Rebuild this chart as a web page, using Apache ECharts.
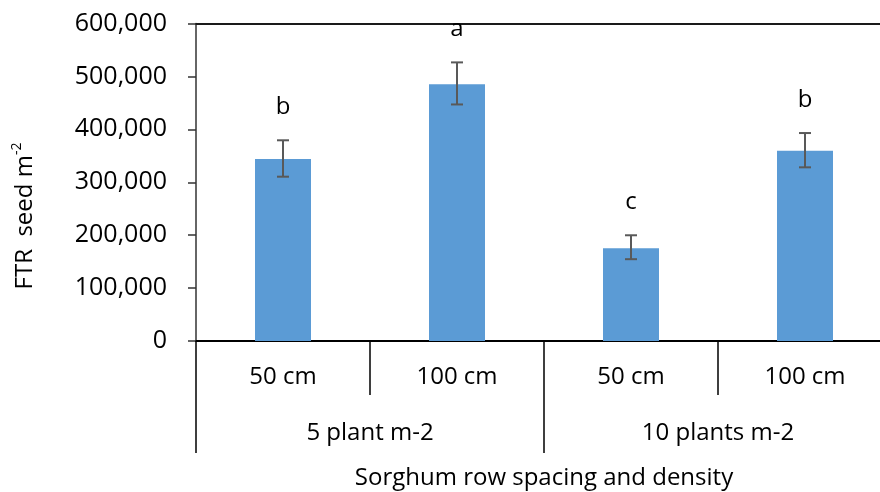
<!DOCTYPE html>
<html>
<head>
<meta charset="utf-8">
<script src="https://cdn.jsdelivr.net/npm/echarts@6/dist/echarts.min.js"></script>
<style>html,body{margin:0;padding:0;background:#fff;}#c{width:880px;height:492px;}</style>
</head>
<body>
<div id="c"></div>
<script>
const spacing = ['50 cm', '100 cm', '50 cm', '100 cm'];
const density = ['5 plant m-2', '10 plants m-2'];
const seeds = [344000, 485000, 175500, 359500];
const errLow = [310500, 447000, 154600, 328200];
const errHigh = [379300, 526500, 199800, 393000];
const letters = ['b', 'a', 'c', 'b'];
const yTicks = { min: 0, max: 600000, step: 100000 };

const FONT = 'Open Sans';
function fmt(v) { return String(v).replace(/\B(?=(\d{3})+(?!\d))/g, ','); }

const chart = echarts.init(document.getElementById('c'), null, { renderer: 'canvas' });
chart.setOption({
  animation: false,
  backgroundColor: '#fff',
  textStyle: { fontFamily: FONT },
  grid: { left: 196, right: -12, top: 23.5, bottom: 151, outerBoundsMode: 'none', containLabel: false },
  xAxis: [
    {
      type: 'category', data: spacing, position: 'bottom',
      axisLine: { show: true, lineStyle: { color: '#000', width: 2 } },
      axisTick: { show: true, interval: 0, length: 54, lineStyle: { color: '#000', width: 1.5 } },
      axisLabel: { interval: 0, fontSize: 24, color: '#000', fontFamily: FONT, margin: 24 }
    },
    {
      type: 'category', data: density, position: 'bottom', offset: 54,
      axisLine: { show: false },
      axisTick: { show: true, interval: 0, length: 58, lineStyle: { color: '#000', width: 1.5 } },
      axisLabel: { interval: 0, fontSize: 24, color: '#000', fontFamily: FONT, margin: 26 },
      name: 'Sorghum row spacing and density', nameLocation: 'middle', nameGap: 71,
      nameTextStyle: { fontSize: 24, color: '#000', fontFamily: FONT }
    },
    {
      type: 'category', data: spacing, position: 'top',
      axisLine: { show: true, lineStyle: { color: '#1a1a1a', width: 2 } },
      axisTick: { show: false }, axisLabel: { show: false }
    }
  ],
  yAxis: {
    type: 'value', min: yTicks.min, max: yTicks.max, interval: yTicks.step,
    axisLine: { show: true, lineStyle: { color: '#333', width: 1.5 } },
    axisTick: { show: true, inside: false, length: 8, lineStyle: { color: '#333', width: 1.5 } },
    splitLine: { show: false },
    axisLabel: { fontSize: 25, color: '#000', fontFamily: FONT, margin: 29, formatter: fmt }
  },
  graphic: [{
    type: 'text', x: 25, y: 216, rotation: Math.PI / 2,
    style: {
      text: '{a|FTR  seed m}{s|-2}',
      align: 'center', verticalAlign: 'middle',
      rich: {
        a: { fontSize: 24, fontFamily: FONT, fill: '#000', lineHeight: 30 },
        s: { fontSize: 14, fontFamily: FONT, fill: '#000', verticalAlign: 'top', lineHeight: 30, padding: [0, 0, 10, 0] }
      }
    }
  }],
  series: [
    {
      type: 'bar', data: seeds, barWidth: 56, xAxisIndex: 0,
      itemStyle: { color: '#5B9BD5' }
    },
    {
      type: 'custom', xAxisIndex: 0,
      data: seeds.map((v, i) => [i, errLow[i], errHigh[i], letters[i]]),
      renderItem: function (params, api) {
        const x = api.coord([api.value(0), 0])[0];
        const lo = api.coord([api.value(0), api.value(1)])[1];
        const hi = api.coord([api.value(0), api.value(2)])[1];
        const w = 6;
        const st = { stroke: '#595959', lineWidth: 2 };
        return {
          type: 'group',
          children: [
            { type: 'line', shape: { x1: x, y1: lo, x2: x, y2: hi }, style: st },
            { type: 'line', shape: { x1: x - w, y1: lo, x2: x + w, y2: lo }, style: st },
            { type: 'line', shape: { x1: x - w, y1: hi, x2: x + w, y2: hi }, style: st },
            { type: 'text', x: x, y: hi - 33, style: { text: letters[params.dataIndex], fontSize: 24, fontFamily: FONT, fill: '#000', align: 'center', verticalAlign: 'middle' } }
          ]
        };
      },
      z: 5
    }
  ]
});
</script>
</body>
</html>
